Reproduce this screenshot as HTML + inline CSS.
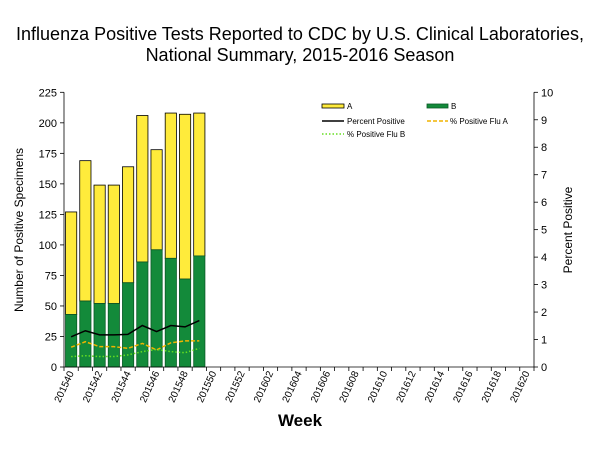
<!DOCTYPE html>
<html><head><meta charset="utf-8"><style>
body{margin:0;background:#fff;font-family:"Liberation Sans",Arial,sans-serif}
svg text{font-family:"Liberation Sans",Arial,sans-serif}
</style></head><body>
<svg id="chart" width="600" height="450" xmlns="http://www.w3.org/2000/svg">
<text x="300" y="40" font-size="18" text-anchor="middle">Influenza Positive Tests Reported to CDC by U.S. Clinical Laboratories,</text>
<text x="300" y="61" font-size="18" text-anchor="middle">National Summary, 2015-2016 Season</text>
<text transform="translate(23,230) rotate(-90)" font-size="12" text-anchor="middle">Number of Positive Specimens</text>
<text transform="translate(572,230) rotate(-90)" font-size="12" text-anchor="middle">Percent Positive</text>
<text x="300" y="426" font-size="17" font-weight="bold" text-anchor="middle">Week</text>
<g id="plot"></g>
<g font-size="8">
<rect x="322" y="104" width="22" height="4" fill="#ffeb3b" stroke="#000" stroke-width="0.8"/>
<text x="347" y="109">A</text>
<rect x="427" y="104" width="21" height="4" fill="#138a3a" stroke="#0a5a26" stroke-width="0.8"/>
<text x="451" y="109">B</text>
<line x1="322" y1="121" x2="344" y2="121" stroke="#000" stroke-width="1.5"/>
<text x="347" y="124">Percent Positive</text>
<line x1="427" y1="121" x2="448" y2="121" stroke="#f0b400" stroke-width="1.5" stroke-dasharray="4,2"/>
<text x="450" y="124">% Positive Flu A</text>
<line x1="322" y1="134" x2="344" y2="134" stroke="#66dd22" stroke-width="1.5" stroke-dasharray="1.5,2"/>
<text x="347" y="137">% Positive Flu B</text>
</g>
</svg>
<script>
const weeks=[];for(let w=40;w<=52;w++)weeks.push('2015'+w);for(let w=1;w<=20;w++)weeks.push('2016'+(w<10?'0'+w:w));
const totalCounts=[127,169,149,149,164,206,178,208,207,208];
const fluBCounts=[43,54,52,52,69,86,96,89,72,91];
const pctPositive=[1.10,1.32,1.17,1.17,1.19,1.51,1.29,1.51,1.46,1.69];
const pctFluA=[0.72,0.92,0.74,0.74,0.68,0.86,0.62,0.88,0.95,0.95];
const pctFluB=[0.38,0.41,0.38,0.38,0.44,0.56,0.64,0.56,0.52,0.68];
const leftTicks=[0,25,50,75,100,125,150,175,200,225];
const rightTicks=[0,1,2,3,4,5,6,7,8,9,10];
const X0=64,X1=534,Y0=367,Y1=92.3;
const bw=(X1-X0)/weeks.length;
const xs=i=>X0+bw*(i+0.5);
const yL=v=>Y0-(v/225)*(Y0-Y1);
const yR=v=>Y0-(v/10)*(Y0-Y1);
const NS='http://www.w3.org/2000/svg';
const g=document.getElementById('plot');
function mk(t,a){const e=document.createElementNS(NS,t);for(const k in a)e.setAttribute(k,a[k]);g.appendChild(e);return e;}
totalCounts.forEach((t,i)=>{
 const b=fluBCounts[i];
 const ra=mk('rect',{x:X0+bw*i+1.5,y:yL(t),width:bw-3,height:yL(b)-yL(t),fill:'#ffeb3b',stroke:'#000','stroke-width':0.8});
 
 
 const rb=mk('rect',{x:X0+bw*i+1.5,y:yL(b),width:bw-3,height:Y0-yL(b),fill:'#138a3a',stroke:'#0a5a26','stroke-width':0.8});
 
 
});
function line(arr,st,dash,name){
 const p=mk('polyline',{points:arr.map((v,i)=>xs(i)+','+yR(v)).join(' '),fill:'none',stroke:st,'stroke-width':1.5});
 if(dash)p.setAttribute('stroke-dasharray',dash);
 
 
}
line(pctPositive,'#000',null,'line-percent-positive');
line(pctFluA,'#f0b400','4,2','line-percent-flu-a');
line(pctFluB,'#66dd22','1.5,2','line-percent-flu-b');
let e=mk('line',{x1:X0,y1:Y1,x2:X0,y2:Y0,stroke:'#000','stroke-width':0.8});

e=mk('line',{x1:X1,y1:Y1,x2:X1,y2:Y0,stroke:'#000','stroke-width':0.8});

e=mk('line',{x1:X0,y1:Y0,x2:X1,y2:Y0,stroke:'#000','stroke-width':0.8});

leftTicks.forEach(v=>{
 mk('line',{x1:X0-4,y1:yL(v),x2:X0,y2:yL(v),stroke:'#000','stroke-width':0.8});
 const t=mk('text',{x:X0-7,y:yL(v)+4,'font-size':11,'text-anchor':'end'});t.textContent=v;
 
 
});
rightTicks.forEach(v=>{
 mk('line',{x1:X1,y1:yR(v),x2:X1+4,y2:yR(v),stroke:'#000','stroke-width':0.8});
 const t=mk('text',{x:X1+7,y:yR(v)+4,'font-size':11});t.textContent=v;
 
 
});
for(let i=0;i<=weeks.length;i++)mk('line',{x1:X0+bw*i,y1:Y0,x2:X0+bw*i,y2:Y0+4,stroke:'#000','stroke-width':0.8});
weeks.forEach((w,i)=>{
 if(i%2)return;
 const x=xs(i)+3,y=Y0+6;
 const t=mk('text',{transform:`translate(${x},${y}) rotate(-65)`,'font-size':10,'text-anchor':'end'});t.textContent=w;
 
 
});
</script>
</body></html>
